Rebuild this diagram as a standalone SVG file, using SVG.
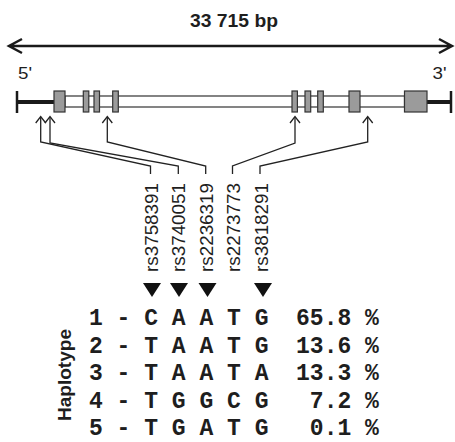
<svg xmlns="http://www.w3.org/2000/svg" width="455" height="442" viewBox="0 0 455 442">
  <style>
    .sans { font-family: "Liberation Sans", Arial, sans-serif; fill: #1e1e1e; }
    .mono { font-family: "Liberation Mono", "Courier New", monospace; font-weight: bold; font-size: 23px; fill: #1e1e1e; }
    .exon { fill: #9b9b9b; stroke: #333; stroke-width: 1.2; }
    .intron { fill: #fff; stroke: #333; stroke-width: 1.2; }
    .utr { stroke: #1a1a1a; stroke-width: 4; fill: none; }
    .cap { stroke: #1a1a1a; stroke-width: 2.5; fill: none; }
    .conn { stroke: #222; stroke-width: 1.3; fill: none; }
    .tick { stroke: #222; stroke-width: 1.3; fill: none; }
    .snp { fill: #111; }
  </style>

  <!-- total length scale -->
  <g id="scale">
    <text class="sans" x="190" y="27" font-size="17.5" font-weight="bold" textLength="88" lengthAdjust="spacingAndGlyphs">33 715 bp</text>
    <path class="cap" d="M9 46 H452 M22 39 L9 46 L22 53 M439 39 L452 46 L439 53" stroke-linejoin="miter"/>
    <text class="sans" x="18" y="78.5" font-size="17" textLength="14" lengthAdjust="spacingAndGlyphs">5'</text>
    <text class="sans" x="432.5" y="78.5" font-size="17" textLength="14" lengthAdjust="spacingAndGlyphs">3'</text>
  </g>

  <!-- gene structure -->
  <g id="gene">
    <line class="cap" x1="17" y1="91" x2="17" y2="113"/>
    <line class="utr" x1="17" y1="102" x2="54" y2="102"/>
    <rect class="intron" x="65" y="96" width="339.5" height="11"/>
    <line class="utr" x1="427" y1="102" x2="451" y2="102"/>
    <line class="cap" x1="451" y1="91" x2="451" y2="113"/>
    <rect class="exon" x="54" y="91" width="11" height="21"/>
    <rect class="exon" x="83.3" y="91" width="5.5" height="21"/>
    <rect class="exon" x="94" y="91" width="5.5" height="21"/>
    <rect class="exon" x="112.7" y="91" width="5.6" height="21"/>
    <rect class="exon" x="292" y="91" width="5.4" height="21"/>
    <rect class="exon" x="305" y="91" width="5.7" height="21"/>
    <rect class="exon" x="317.7" y="91" width="5.6" height="21"/>
    <rect class="exon" x="349" y="91" width="11" height="21"/>
    <rect class="exon" x="404.5" y="91" width="22.5" height="21"/>
  </g>

  <!-- SNP position connectors -->
  <g id="connectors">
    <path class="conn" d="M40.7 117 V142 L150.5 166 V174"/>
    <path class="conn" d="M50 117 V143 L178.3 166 V174"/>
    <path class="conn" d="M107.3 117 V142 L205.7 166 V174"/>
    <path class="conn" d="M295 117 V143 L232.5 166 V174"/>
    <path class="conn" d="M367.7 117 V142 L260 166 V174"/>
    <path class="tick" d="M35.7 123 L40.7 116.5 L45.7 123"/>
    <path class="tick" d="M45 123 L50 116.5 L55 123"/>
    <path class="tick" d="M102.3 123 L107.3 116.5 L112.3 123"/>
    <path class="tick" d="M290 123 L295 116.5 L300 123"/>
    <path class="tick" d="M362.7 123 L367.7 116.5 L372.7 123"/>
  </g>

  <!-- SNP labels -->
  <g id="snp-labels" class="sans" font-size="17.5">
    <text id="rs3758391" transform="translate(157.5 272) rotate(-90)" textLength="89" lengthAdjust="spacingAndGlyphs">rs3758391</text>
    <text id="rs3740051" transform="translate(185 272) rotate(-90)" textLength="89" lengthAdjust="spacingAndGlyphs">rs3740051</text>
    <text id="rs2236319" transform="translate(212.5 272) rotate(-90)" textLength="89" lengthAdjust="spacingAndGlyphs">rs2236319</text>
    <text id="rs2273773" transform="translate(240 272) rotate(-90)" textLength="89" lengthAdjust="spacingAndGlyphs">rs2273773</text>
    <text id="rs3818291" transform="translate(267.5 272) rotate(-90)" textLength="89" lengthAdjust="spacingAndGlyphs">rs3818291</text>
  </g>

  <!-- genotyped SNP markers -->
  <g id="markers">
    <polygon class="snp" points="143,283 161,283 152,297"/>
    <polygon class="snp" points="170,283 188,283 179,297"/>
    <polygon class="snp" points="198.5,283 216.5,283 207.5,297"/>
    <polygon class="snp" points="254,283 272,283 263,297"/>
  </g>

  <!-- haplotype frequency table -->
  <g id="haplotypes">
    <text class="sans" transform="translate(71 375) rotate(-90)" font-size="19" font-weight="bold" text-anchor="middle" textLength="92" lengthAdjust="spacingAndGlyphs">Haplotype</text>
    <text class="mono" x="89" y="325" xml:space="preserve">1 - C A A T G  65.8 %</text>
    <text class="mono" x="89" y="352.5" xml:space="preserve">2 - T A A T G  13.6 %</text>
    <text class="mono" x="89" y="380" xml:space="preserve">3 - T A A T A  13.3 %</text>
    <text class="mono" x="89" y="407.5" xml:space="preserve">4 - T G G C G   7.2 %</text>
    <text class="mono" x="89" y="435" xml:space="preserve">5 - T G A T G   0.1 %</text>
  </g>
</svg>
